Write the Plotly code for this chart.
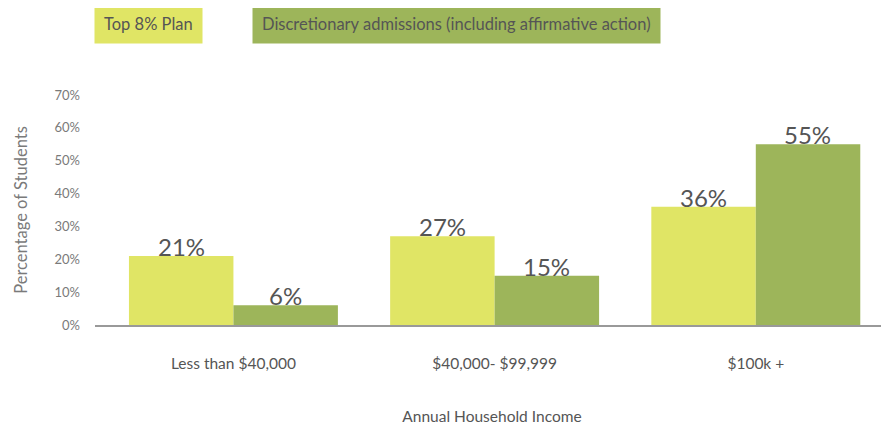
import plotly.graph_objects as go

categories = ["Less than $40,000", "$40,000- $99,999", "$100k +"]
top8 = [21, 27, 36]
discretionary = [6, 15, 55]
series_names = ["Top 8% Plan", "Discretionary admissions (including affirmative action)"]
y_ticks = [0, 10, 20, 30, 40, 50, 60, 70]

YELLOW = "#E0E565"
GREEN = "#9DB55A"
TXT = "#555555"
LIGHT = "#7a7a7a"
FONT = "Lato"

W, H = 881, 420  # page body adds an 8px offset
T, B, L = 87, 103, 87
fig = go.Figure()
for name, vals, col in [(series_names[0], top8, YELLOW), (series_names[1], discretionary, GREEN)]:
    fig.add_trace(go.Bar(
        x=categories, y=vals, name=name, marker=dict(color=col, line=dict(width=0)),
    ))

# value labels sitting on the bar tops
for vals, shift in [(top8, -52), (discretionary, 52)]:
    for c, v in zip(categories, vals):
        fig.add_annotation(
            x=c, y=v, text=f"{v}%", showarrow=False, xshift=shift, yshift=-7,
            yanchor="bottom", xanchor="center",
            font=dict(size=24, color=TXT, family=FONT),
        )

fig.update_layout(
    width=W, height=H,
    margin=dict(l=L, r=0, t=T, b=B),
    paper_bgcolor="white", plot_bgcolor="white",
    barmode="group", bargap=0.2, bargroupgap=0,
    showlegend=False,
    font=dict(family=FONT, color=TXT),
    xaxis=dict(
        range=[-0.53, 2.51], showgrid=False, showline=True, linecolor="#999999", linewidth=1.5,
        ticks="", ticklabelstandoff=24, tickfont=dict(size=15.5, color=TXT),
        title=dict(text="Annual Household Income", font=dict(size=15.5, color=TXT), standoff=40),
        automargin=False,
    ),
    yaxis=dict(
        range=[0, 70], tickvals=y_ticks, ticktext=[f"{t}%" for t in y_ticks],
        showgrid=False, zeroline=False, showline=False, ticks="",
        ticklabelstandoff=14, tickfont=dict(size=13, color=LIGHT),
        title=dict(text="Percentage of Students", font=dict(size=16.5, color=LIGHT), standoff=22),
        automargin=False,
    ),
)

plot_h = H - T - B
legend_specs = [(series_names[0], YELLOW, 148), (series_names[1], GREEN, 456)]
for text, col, xc in legend_specs:
    fig.add_annotation(
        text=text, xref="paper", yref="paper",
        x=(xc - 8 - L) / (W - L), y=(H - (24 - 8) - B) / plot_h,
        yanchor="middle", xanchor="center", showarrow=False, bgcolor=col, borderpad=9,
        font=dict(size=16.5, color=TXT, family=FONT),
    )

fig.write_html("out.html")
